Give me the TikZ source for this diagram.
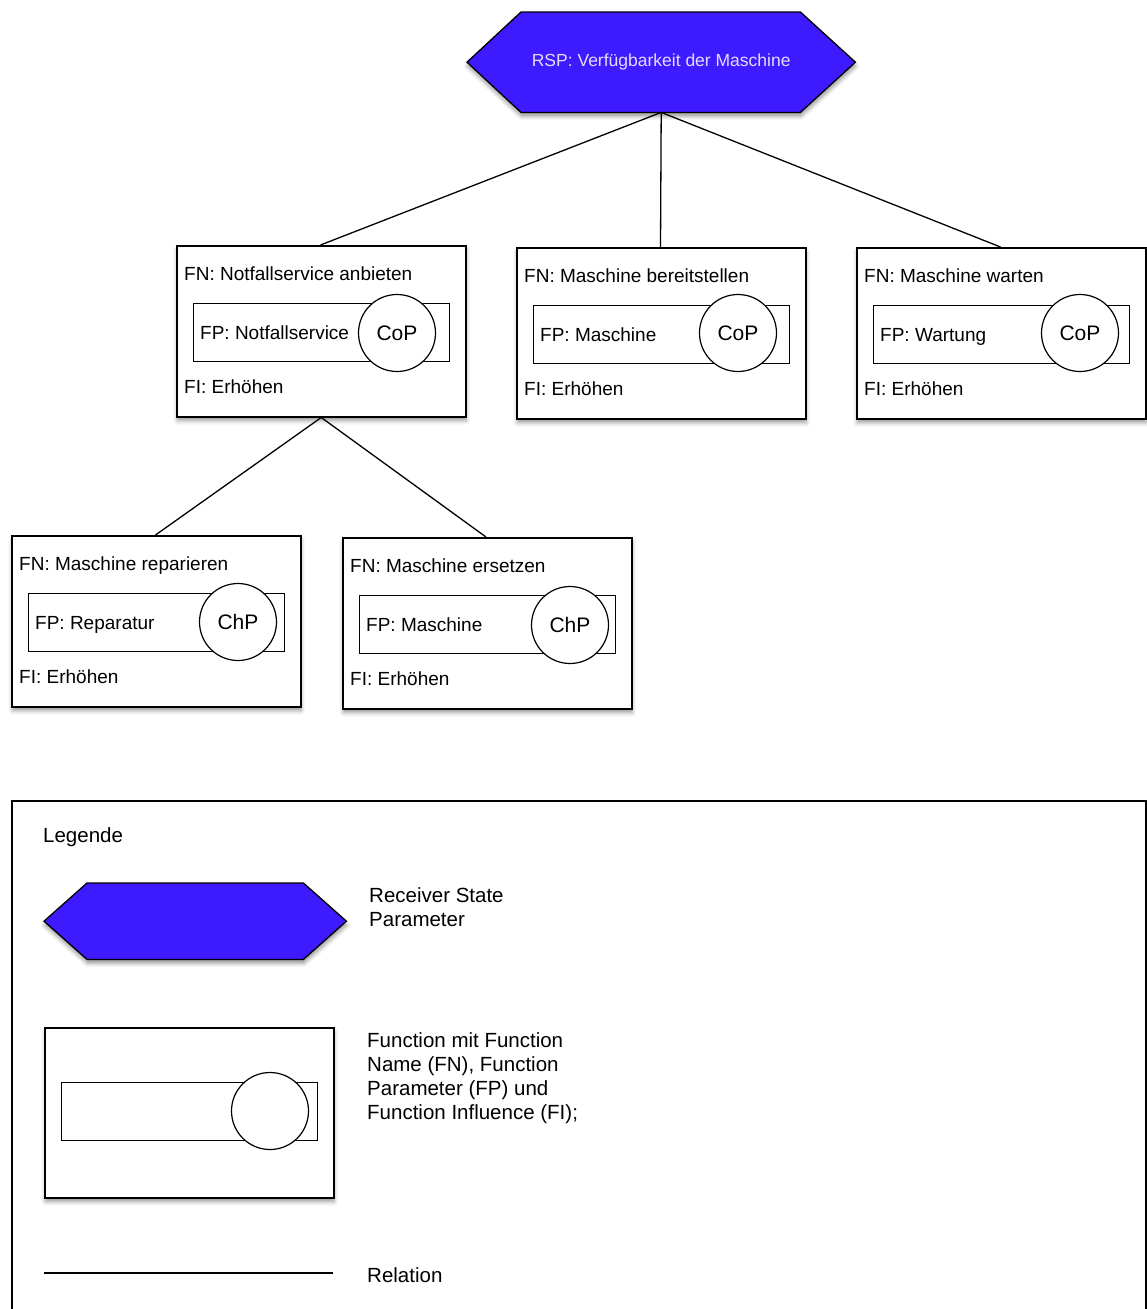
\documentclass[tikz,border=0pt]{standalone}
\usepackage{fontspec}
\setmainfont{Liberation Sans}
\usetikzlibrary{calc,shadows.blur}
\definecolor{rspblue}{RGB}{62,26,255}
\definecolor{rsptext}{RGB}{225,220,255}
\tikzset{
  shad/.style={blur shadow={shadow xshift=0.5pt, shadow yshift=-4pt, shadow blur radius=4pt}},
  funcbox/.style={draw, line width=1.5pt, fill=white, rectangle, minimum width=289pt, minimum height=171pt, inner sep=0pt, anchor=north west, shad},
  parbox/.style={draw, line width=1.2pt, fill=white, rectangle, minimum width=256pt, minimum height=58pt, inner sep=0pt, anchor=north west},
  pcircle/.style={draw, circle, line width=1.2pt, fill=white, minimum size=77pt, inner sep=0pt, font=\fontsize{21}{25}\selectfont},
  txt/.style={anchor=base west, inner sep=0pt, font=\fontsize{19}{23}\selectfont},
  ltxt/.style={anchor=base west, inner sep=0pt, font=\fontsize{20.5}{24}\selectfont, align=left},
  rel/.style={line width=1.3pt},
  hexfill/.style={fill=rspblue, draw=black, line width=1.3pt, line join=miter, shad},
  frame/.style={rectangle, inner sep=0pt, anchor=north west},
}
\newcommand{\funcunit}[8]{%
  \node[funcbox] (#1) at (#2,#3) {};
  \node[parbox] (#1p) at ($(#1.north west)+(17,58)$) {};
  \node[pcircle] (#1c) at ($(#1.north west)+(#7,#8)$) {#6};
  \node[txt] (#1fn) at ($(#1.north west)+(8,35)$) {FN: #4};
  \node[txt] (#1fp) at ($(#1.north west)+(24,94)$) {FP: #5};
  \node[txt] (#1fi) at ($(#1.north west)+(8,148)$) {FI: Erhöhen};
}
\begin{document}
\begin{tikzpicture}[x=1pt,y=-1pt]
\useasboundingbox (0,0) rectangle (1147,1309);
\clip (0,0) rectangle (1147,1309);

% connectors first (behind boxes)
\node[frame, minimum width=388pt, minimum height=100pt] (rsp) at (467,12) {};
\coordinate (f1top) at (320.5,245);
\coordinate (f2top) at (660.5,247);
\coordinate (f3top) at (1000.5,247);
\draw[rel] (rsp.south) -- (f1top);
\draw[rel] (rsp.south) -- (f2top);
\draw[rel] (rsp.south) -- (f3top);

% receiver state parameter
\path[hexfill] (rsp.west) -- ($(rsp.north west)+(54,0)$) -- ($(rsp.north east)+(-55,0)$)
  -- (rsp.east) -- ($(rsp.south east)+(-55,0)$) -- ($(rsp.south west)+(54,0)$) -- cycle;
\node[text=rsptext, font=\fontsize{17.5}{20}\selectfont, inner sep=0pt] (rsplabel) at (rsp.center) {RSP: Verfügbarkeit der Maschine};

% functions
\funcunit{fa}{176}{245}{Notfallservice anbieten}{Notfallservice}{CoP}{221}{88}
\funcunit{fb}{516}{247}{Maschine bereitstellen}{Maschine}{CoP}{222}{86}
\funcunit{fc}{856}{247}{Maschine warten}{Wartung}{CoP}{224}{86}

\coordinate (f4top) at (155.5,535);
\coordinate (f5top) at (486,537);
\draw[rel] (fa.south) -- (f4top);
\draw[rel] (fa.south) -- (f5top);

\funcunit{fd}{11}{535}{Maschine reparieren}{Reparatur}{ChP}{227}{87}
\funcunit{fe}{342}{537}{Maschine ersetzen}{Maschine}{ChP}{228}{88}

% legend
\node[frame, draw, line width=1.5pt, minimum width=1134pt, minimum height=540pt] (legend) at (11,800) {};
\node[ltxt] (legtitle) at (43,842) {Legende};

\node[frame, minimum width=302pt, minimum height=76pt] (lrsp) at (44,883) {};
\path[hexfill] (lrsp.west) -- ($(lrsp.north west)+(43,0)$) -- ($(lrsp.north east)+(-43,0)$)
  -- (lrsp.east) -- ($(lrsp.south east)+(-43,0)$) -- ($(lrsp.south west)+(43,0)$) -- cycle;
\node[ltxt] (lrsptext) at (369,926) {Receiver State\\Parameter};

\node[funcbox, minimum height=170pt] (lf) at (44,1027) {};
\node[parbox] (lfp) at ($(lf.north west)+(17,55)$) {};
\node[pcircle] (lfc) at ($(lf.north west)+(226,84)$) {};
\node[ltxt] (lftext) at (367,1119) {Function mit Function\\Name (FN), Function\\Parameter (FP) und\\Function Influence (FI);};

\coordinate (rela) at (44,1273);
\coordinate (relb) at (333,1273);
\draw[rel] (rela) -- (relb);
\node[ltxt] (reltext) at (367,1282) {Relation};
\end{tikzpicture}
\end{document}
